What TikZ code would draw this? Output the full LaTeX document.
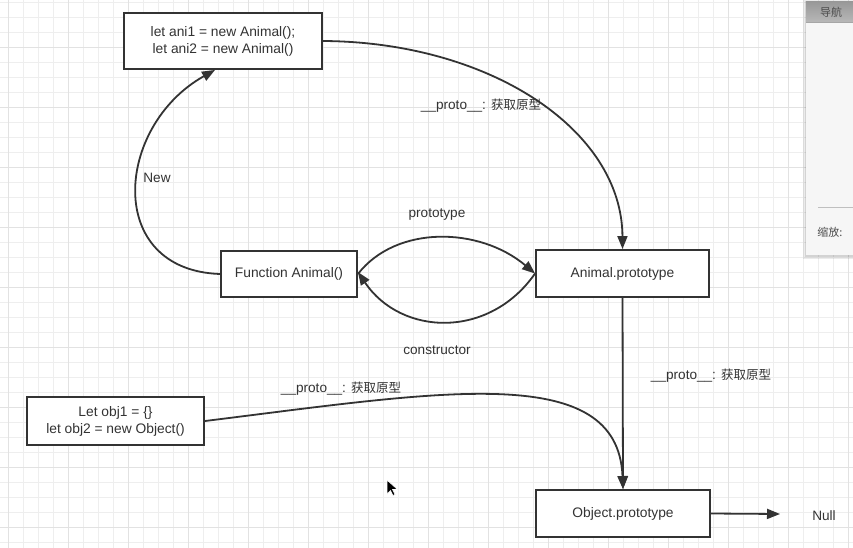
\documentclass[tikz,border=0pt]{standalone}
\usepackage{fontspec}
\setmainfont{Liberation Sans}
\newfontfamily\cjk{Noto Sans CJK SC}
\usetikzlibrary{arrows.meta}
\definecolor{ink}{HTML}{333333}
\definecolor{gridminor}{HTML}{EEEEEE}
\definecolor{gridmajor}{HTML}{E2E2E2}
\definecolor{panelbg}{HTML}{F6F6F6}
\newcommand{\cn}[1]{{\cjk\fontsize{12.5}{15}\selectfont #1}}
\begin{document}
\begin{tikzpicture}[x=1pt,y=-1pt,
  box/.style={draw=ink,line width=1.9pt,fill=white,align=center,text=ink,
    font=\fontsize{13.8}{17}\selectfont,inner sep=0pt},
  lbl/.style={text=ink,font=\fontsize{13.6}{16}\selectfont,inner sep=0pt},
  conn/.style={draw=ink,line width=1.8pt,-{Triangle[length=13pt,width=10pt]}},
  paneltext/.style={text=black!70,font=\cjk\fontsize{11}{13}\selectfont,inner sep=0pt}
]
\useasboundingbox (0,0) rectangle (853,548);
\fill[white] (0,0) rectangle (853,548);
% grid
\foreach \i in {0,...,56} {\draw[gridminor,line width=0.8pt] ({8+15*\i},0) -- ({8+15*\i},548);}
\foreach \i in {0,...,36} {\draw[gridminor,line width=0.8pt] (0,{2+15*\i}) -- (853,{2+15*\i});}
\foreach \i in {0,...,14} {\draw[gridmajor,line width=0.9pt] ({8+60*\i},0) -- ({8+60*\i},548);}
\foreach \i in {0,...,9} {\draw[gridmajor,line width=0.9pt] (0,{47+60*\i}) -- (853,{47+60*\i});}

% nodes
\node[box,minimum width=198pt,minimum height=56pt] (ani) at (223,41) {let ani1 = new Animal();\\let ani2 = new Animal()};
\node[box,minimum width=136pt,minimum height=46pt] (fa) at (289,274) {Function Animal()};
\node[box,minimum width=173pt,minimum height=47pt] (ap) at (622.5,273.5) {Animal.prototype};
\node[box,minimum width=177pt,minimum height=48pt] (obj) at (115.5,421) {Let obj1 = \{\}\\let obj2 = new Object()};
\node[box,minimum width=174pt,minimum height=47pt] (op) at (623,513.5) {Object.prototype};
\node[lbl] (nul) at (824,516) {Null};
\coordinate (nulin) at (780,514);

% connectors
\draw[conn] (ani.east) .. controls (490,42) and (622,130) .. (ap.north);
\draw[conn] (fa.west) .. controls +(-116,-4) and +(-100,56) .. ([xshift=-8pt]ani.south);
\draw[conn] (fa.east) .. controls +(38,-49) and +(-56,-47) .. (ap.west);
\draw[conn] (ap.west) .. controls +(-46,66) and +(43,64) .. ([yshift=2pt]fa.east);
\draw[conn] (ap.south) -- (op.north);
\draw[conn] (obj.east) .. controls (440,392) and (618,360) .. (op.north);
\draw[conn] (op.east) -- (nulin);

% labels
\node[lbl] (l1) at (481,106) {\_\_proto\_\_: \cn{获取原型}};
\node[lbl] (l2) at (157,178) {New};
\node[lbl] (l3) at (437,215) {prototype};
\node[lbl] (l4) at (437,350) {constructor};
\node[lbl] (l5) at (711,376) {\_\_proto\_\_: \cn{获取原型}};
\node[lbl] (l6) at (341,389) {\_\_proto\_\_: \cn{获取原型}};

% cursor
\filldraw[fill=black,draw=white,line width=0.6pt] (387,480) -- ++(0,14) -- ++(3.5,-3.5) -- ++(2.5,5) -- ++(2,-1) -- ++(-2.5,-5) -- ++(5,0) -- cycle;

% navigator panel
\fill[black,opacity=0.08] (803,0) rectangle (853,259);
\fill[black,opacity=0.10] (805,1) rectangle (853,257);
\fill[panelbg] (806,2) rectangle (853,255);
\shade[top color=black!40,bottom color=black!28] (806,2) rectangle (853,22);
\draw[black!35,line width=0.6pt] (806,22) -- (853,22);
\node[paneltext] (nav) at (831,12) {导航};
\draw[black!25,line width=0.8pt] (818,207) -- (853,207);
\node[paneltext] (zoom) at (830,232) {缩放:};
\end{tikzpicture}
\end{document}
